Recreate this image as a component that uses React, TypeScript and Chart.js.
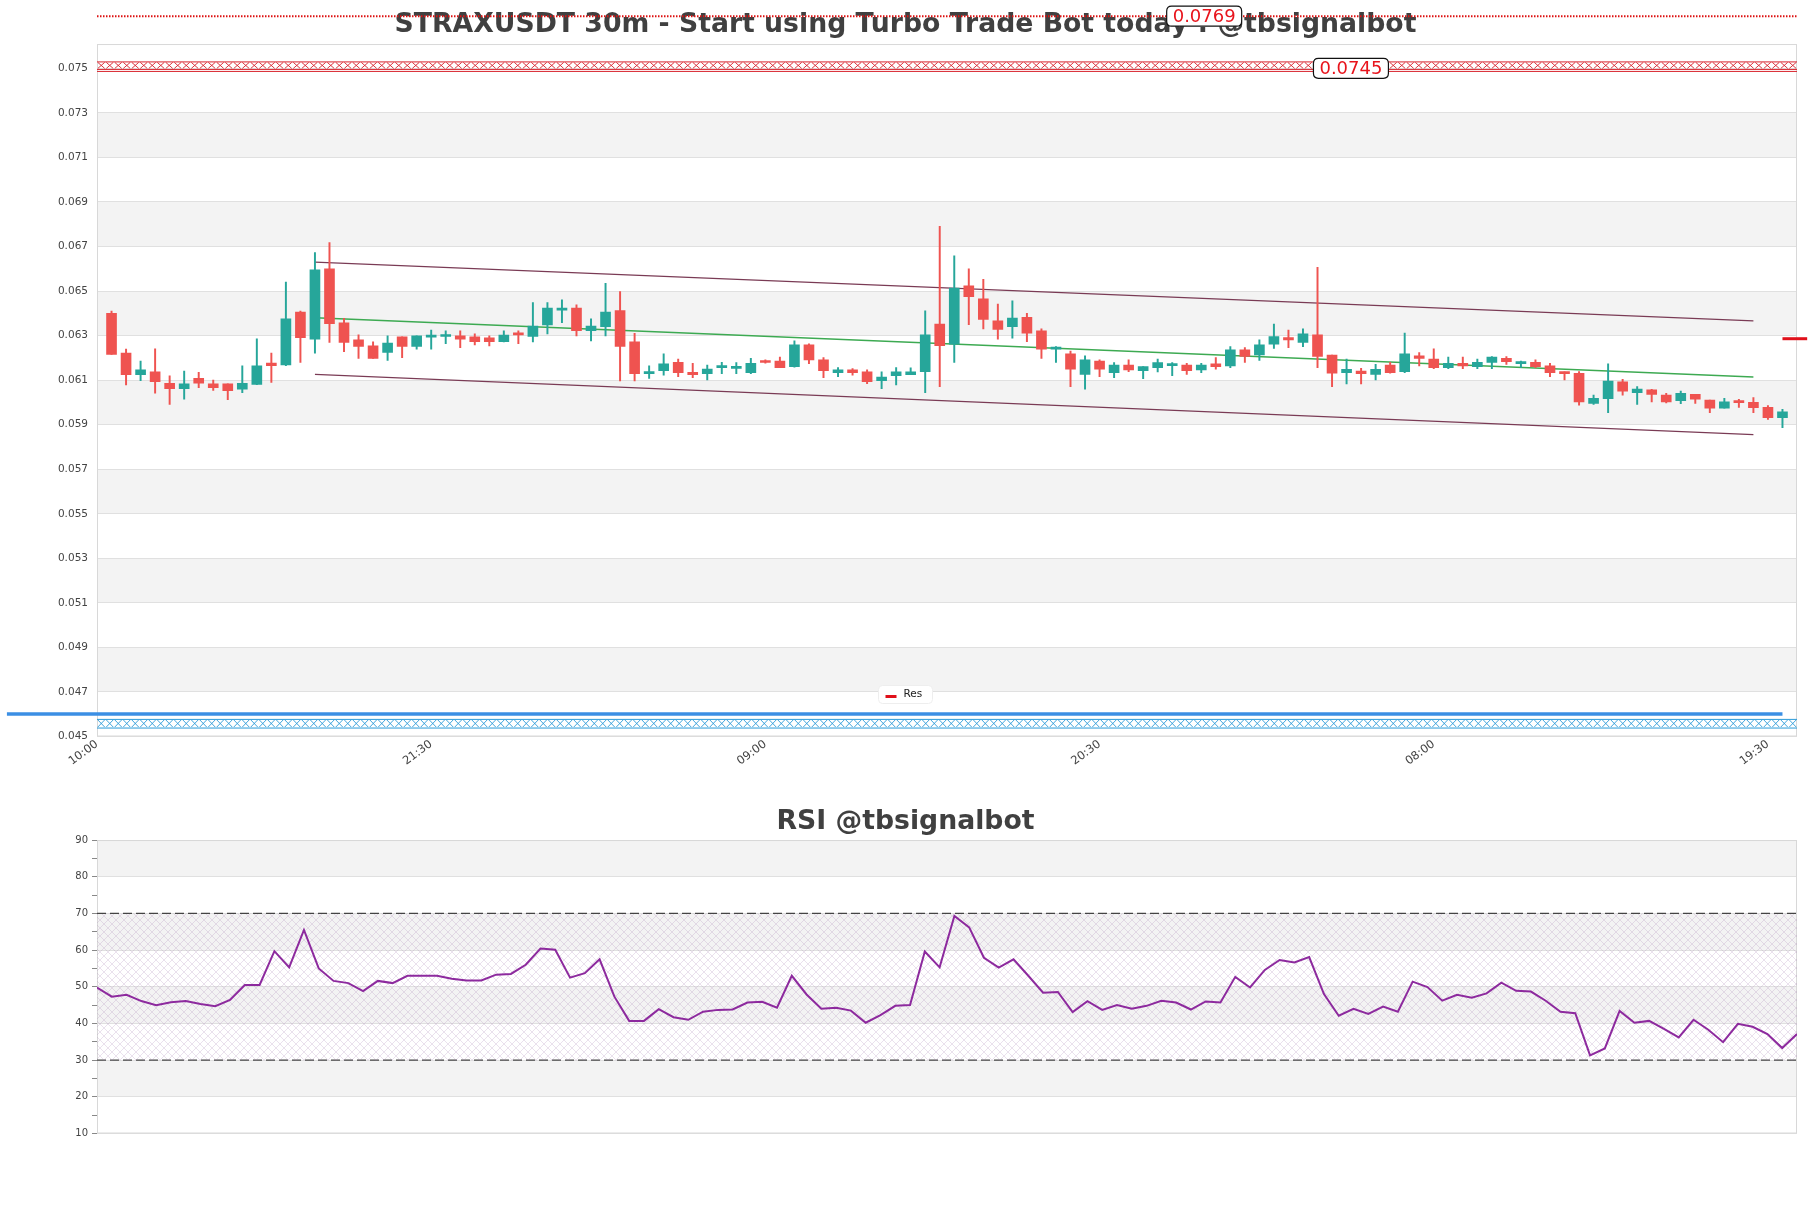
import React, { useEffect, useRef } from 'react';
import { Chart, registerables } from 'chart.js';

Chart.register(...registerables);

// ---------- DATA ----------
const titleMain = 'STRAXUSDT 30m - Start using Turbo Trade Bot today : @tbsignalbot';
const titleRsi = 'RSI @tbsignalbot';

const xTickPositions = [0, 23, 46, 69, 92, 115];
const xTickLabels = ['10:00', '21:30', '09:00', '20:30', '08:00', '19:30'];
const priceTicks = [0.045, 0.047, 0.049, 0.051, 0.053, 0.055, 0.057, 0.059, 0.061, 0.063, 0.065, 0.067, 0.069, 0.071, 0.073, 0.075];
const priceMin = 0.045;
const priceMax = 0.07609;
const xMin = 0;
const xMax = 117;

const candleOpen = [
  0.06400, 0.06221, 0.06125, 0.06137, 0.06086, 0.06062, 0.06108, 0.06083, 0.06083, 0.06059,
  0.06081, 0.06177, 0.06168, 0.06406, 0.06284, 0.06600, 0.06357, 0.06281, 0.06254, 0.06224,
  0.06294, 0.06251, 0.06293, 0.06296, 0.06299, 0.06294, 0.06290, 0.06273, 0.06308, 0.06296,
  0.06348, 0.06414, 0.06424, 0.06322, 0.06340, 0.06412, 0.06272, 0.06129, 0.06143, 0.06180,
  0.06135, 0.06129, 0.06156, 0.06153, 0.06134, 0.06186, 0.06186, 0.06161, 0.06258, 0.06191,
  0.06134, 0.06146, 0.06137, 0.06098, 0.06120, 0.06125, 0.06138, 0.06352, 0.06261, 0.06523,
  0.06465, 0.06366, 0.06340, 0.06382, 0.06321, 0.06239, 0.06218, 0.06126, 0.06186, 0.06134,
  0.06168, 0.06143, 0.06156, 0.06165, 0.06168, 0.06146, 0.06173, 0.06164, 0.06236, 0.06213,
  0.06261, 0.06291, 0.06269, 0.06303, 0.06213, 0.06134, 0.06141, 0.06126, 0.06168, 0.06138,
  0.06209, 0.06195, 0.06156, 0.06176, 0.06161, 0.06179, 0.06198, 0.06174, 0.06180, 0.06164,
  0.06137, 0.06131, 0.05996, 0.06017, 0.06092, 0.06044, 0.06056, 0.06033, 0.06008, 0.06036,
  0.06011, 0.05974, 0.06003, 0.06000, 0.05978, 0.05931,
];
const candleHigh = [
  0.06410, 0.06239, 0.06186, 0.06240, 0.06119, 0.06141, 0.06135, 0.06100, 0.06083, 0.06164,
  0.06285, 0.06222, 0.06540, 0.06410, 0.06673, 0.06718, 0.06378, 0.06303, 0.06272, 0.06299,
  0.06294, 0.06299, 0.06325, 0.06321, 0.06321, 0.06308, 0.06299, 0.06321, 0.06321, 0.06448,
  0.06448, 0.06460, 0.06438, 0.06375, 0.06535, 0.06498, 0.06310, 0.06164, 0.06218, 0.06194,
  0.06176, 0.06168, 0.06180, 0.06179, 0.06198, 0.06191, 0.06204, 0.06276, 0.06263, 0.06201,
  0.06156, 0.06152, 0.06146, 0.06137, 0.06156, 0.06155, 0.06411, 0.06790, 0.06658, 0.06600,
  0.06553, 0.06442, 0.06456, 0.06400, 0.06330, 0.06251, 0.06231, 0.06209, 0.06191, 0.06179,
  0.06191, 0.06161, 0.06195, 0.06179, 0.06176, 0.06176, 0.06201, 0.06251, 0.06246, 0.06281,
  0.06352, 0.06325, 0.06330, 0.06607, 0.06213, 0.06194, 0.06153, 0.06171, 0.06180, 0.06311,
  0.06224, 0.06240, 0.06203, 0.06203, 0.06194, 0.06206, 0.06206, 0.06186, 0.06191, 0.06176,
  0.06137, 0.06138, 0.06033, 0.06173, 0.06104, 0.06071, 0.06059, 0.06041, 0.06051, 0.06036,
  0.06011, 0.06018, 0.06014, 0.06022, 0.05986, 0.05969,
];
const candleLow = [
  0.06216, 0.06078, 0.06098, 0.06041, 0.05991, 0.06014, 0.06066, 0.06054, 0.06012, 0.06044,
  0.06080, 0.06090, 0.06165, 0.06179, 0.06221, 0.06269, 0.06228, 0.06198, 0.06197, 0.06188,
  0.06201, 0.06239, 0.06239, 0.06264, 0.06246, 0.06258, 0.06254, 0.06272, 0.06264, 0.06272,
  0.06308, 0.06358, 0.06299, 0.06276, 0.06299, 0.06096, 0.06096, 0.06108, 0.06122, 0.06116,
  0.06111, 0.06101, 0.06129, 0.06129, 0.06129, 0.06176, 0.06156, 0.06158, 0.06174, 0.06111,
  0.06116, 0.06122, 0.06084, 0.06062, 0.06078, 0.06125, 0.06044, 0.06071, 0.06179, 0.06349,
  0.06330, 0.06284, 0.06288, 0.06273, 0.06197, 0.06180, 0.06071, 0.06060, 0.06116, 0.06111,
  0.06138, 0.06107, 0.06137, 0.06120, 0.06126, 0.06134, 0.06149, 0.06156, 0.06179, 0.06188,
  0.06242, 0.06246, 0.06250, 0.06156, 0.06071, 0.06083, 0.06083, 0.06101, 0.06131, 0.06134,
  0.06164, 0.06152, 0.06152, 0.06152, 0.06152, 0.06152, 0.06170, 0.06156, 0.06156, 0.06116,
  0.06101, 0.05988, 0.05991, 0.05954, 0.06033, 0.05991, 0.06002, 0.05998, 0.05994, 0.05996,
  0.05954, 0.05974, 0.05978, 0.05954, 0.05924, 0.05887,
];
const candleClose = [
  0.06216, 0.06125, 0.06146, 0.06093, 0.06062, 0.06083, 0.06086, 0.06066, 0.06053, 0.06086,
  0.06164, 0.06165, 0.06375, 0.06291, 0.06595, 0.06354, 0.06269, 0.06251, 0.06197, 0.06266,
  0.06251, 0.06299, 0.06299, 0.06299, 0.06284, 0.06273, 0.06273, 0.06302, 0.06303, 0.06343,
  0.06424, 0.06420, 0.06322, 0.06343, 0.06406, 0.06251, 0.06129, 0.06134, 0.06173, 0.06134,
  0.06125, 0.06150, 0.06161, 0.06158, 0.06176, 0.06179, 0.06156, 0.06258, 0.06191, 0.06143,
  0.06146, 0.06134, 0.06093, 0.06114, 0.06137, 0.06137, 0.06303, 0.06255, 0.06513, 0.06475,
  0.06373, 0.06328, 0.06379, 0.06311, 0.06239, 0.06243, 0.06149, 0.06191, 0.06149, 0.06168,
  0.06146, 0.06161, 0.06179, 0.06171, 0.06143, 0.06168, 0.06161, 0.06236, 0.06206, 0.06258,
  0.06296, 0.06281, 0.06308, 0.06206, 0.06131, 0.06149, 0.06129, 0.06149, 0.06134, 0.06218,
  0.06197, 0.06156, 0.06176, 0.06164, 0.06180, 0.06203, 0.06183, 0.06180, 0.06161, 0.06134,
  0.06129, 0.06002, 0.06018, 0.06096, 0.06051, 0.06060, 0.06036, 0.06002, 0.06041, 0.06014,
  0.05974, 0.06003, 0.05999, 0.05976, 0.05931, 0.05958,
];

// channel / trend lines
const channelX = [15, 114];
const channelUpper = [0.0663, 0.06366];
const channelMid = [0.0638, 0.06114];
const channelLower = [0.06126, 0.05855];

// horizontal levels
const supportLineX = [-6.2, 116];
const supportLineValue = 0.04601;
const resistanceLineX = [0, 117];
const resistanceLineValue = 0.07734;
const resMarkerX = [116, 117.7];
const resMarkerValue = 0.06286;
const resZone = [0.07486, 0.07531];
const supZone = [0.04538, 0.04579];

const priceLabelTexts = ['0.0769', '0.0745'];
const priceLabelX = [76.2, 86.3];
const priceLabelY = [0.07734, 0.0750];

// RSI
const rsiValues = [
  49.8, 47.3, 47.8, 46.1, 45.0, 45.8, 46.1, 45.3, 44.7, 46.4,
  50.5, 50.5, 59.7, 55.3, 65.5, 55.0, 51.6, 51.0, 48.8, 51.6,
  51.0, 53.0, 53.0, 53.0, 52.2, 51.7, 51.7, 53.3, 53.5, 56.0,
  60.4, 60.1, 52.5, 53.7, 57.5, 47.3, 40.7, 40.7, 43.9, 41.7,
  41.0, 43.2, 43.7, 43.8, 45.7, 45.9, 44.3, 53.0, 47.9, 44.0,
  44.3, 43.5, 40.2, 42.3, 44.8, 45.0, 59.6, 55.3, 69.3, 66.2,
  57.9, 55.2, 57.5, 53.0, 48.4, 48.6, 43.1, 46.1, 43.7, 45.0,
  44.0, 44.8, 46.2, 45.7, 43.8, 46.0, 45.7, 52.7, 49.8, 54.6,
  57.3, 56.6, 58.1, 48.0, 42.1, 44.0, 42.6, 44.6, 43.2, 51.4,
  49.9, 46.2, 47.8, 47.0, 48.2, 51.1, 48.9, 48.7, 46.2, 43.2,
  42.8, 31.3, 33.2, 43.4, 40.2, 40.7, 38.5, 36.2, 41.0, 38.3,
  34.9, 39.9, 39.1, 37.1, 33.3, 37.1,
];
const rsiMajorTicks = [10, 20, 30, 40, 50, 60, 70, 80, 90];
const rsiMinorTicks = [10, 15, 20, 25, 30, 35, 40, 45, 50, 55, 60, 65, 70, 75, 80, 85, 90];
const rsiUpper = 70;
const rsiLower = 30;

// ---------- STYLE ----------
const UP = '#26a69a';
const DOWN = '#ef5350';
const BAND = '#f3f3f3';
const GRID = '#e0e0e0';
const FONT = "'DejaVu Sans', sans-serif";

function stripeBands(ticks: number[]) {
  const out: [number, number][] = [];
  for (let i = 0; i < ticks.length - 1; i++) if (i % 2 === 1) out.push([ticks[i], ticks[i + 1]]);
  return out;
}

function makeStripePlugin(ticks: number[]) {
  const bands = stripeBands(ticks);
  return {
    id: 'stripes',
    beforeDraw(chart: any) {
      const { ctx, chartArea: a } = chart;
      const y = chart.scales.y;
      ctx.save();
      ctx.fillStyle = BAND;
      for (const [lo, hi] of bands) {
        const y1 = y.getPixelForValue(hi);
        const y2 = y.getPixelForValue(lo);
        ctx.fillRect(a.left, y1, a.right - a.left, y2 - y1);
      }
      ctx.restore();
    },
    beforeDatasetsDraw(chart: any) {
      const { ctx, chartArea: a } = chart;
      ctx.save();
      ctx.strokeStyle = '#d8d8d8';
      ctx.lineWidth = 1;
      ctx.strokeRect(a.left + 0.5, a.top + 0.5, a.right - a.left - 1, a.bottom - a.top - 1);
      ctx.restore();
    },
  };
}

function drawZone(ctx: CanvasRenderingContext2D, left: number, right: number, yTop: number, yBot: number, color: string, doubleBottom: boolean) {
  ctx.save();
  ctx.strokeStyle = color;
  ctx.lineWidth = 0.9;
  const xBot = doubleBottom ? yBot - 2 : yBot;
  ctx.beginPath();
  const step = 8.5;
  for (let x = left; x + step <= right + 0.1; x += step) {
    ctx.moveTo(x + 0.8, yTop + 1);
    ctx.lineTo(x + step - 0.8, xBot - 1);
    ctx.moveTo(x + step - 0.8, yTop + 1);
    ctx.lineTo(x + 0.8, xBot - 1);
  }
  ctx.stroke();
  ctx.lineWidth = 1;
  ctx.beginPath();
  ctx.moveTo(left, yTop + 0.5);
  ctx.lineTo(right, yTop + 0.5);
  ctx.moveTo(left, xBot);
  ctx.lineTo(right, xBot);
  if (doubleBottom) {
    ctx.moveTo(left, yBot);
    ctx.lineTo(right, yBot);
  }
  ctx.stroke();
  ctx.restore();
}

const zonesPlugin = {
  id: 'zones',
  beforeDatasetsDraw(chart: any) {
    const { ctx, chartArea: a } = chart;
    const y = chart.scales.y;
    drawZone(ctx, a.left, a.right, y.getPixelForValue(resZone[1]), y.getPixelForValue(resZone[0]), '#d8232c', true);
    drawZone(ctx, a.left, a.right, y.getPixelForValue(supZone[1]), y.getPixelForValue(supZone[0]), '#2a9ad8', false);
  },
};

function roundRect(ctx: CanvasRenderingContext2D, x: number, y: number, w: number, h: number, r: number) {
  ctx.beginPath();
  ctx.moveTo(x + r, y);
  ctx.lineTo(x + w - r, y);
  ctx.quadraticCurveTo(x + w, y, x + w, y + r);
  ctx.lineTo(x + w, y + h - r);
  ctx.quadraticCurveTo(x + w, y + h, x + w - r, y + h);
  ctx.lineTo(x + r, y + h);
  ctx.quadraticCurveTo(x, y + h, x, y + h - r);
  ctx.lineTo(x, y + r);
  ctx.quadraticCurveTo(x, y, x + r, y);
  ctx.closePath();
}

const labelsPlugin = {
  id: 'priceLabels',
  afterDatasetsDraw(chart: any) {
    const { ctx, chartArea: a } = chart;
    const x = chart.scales.x;
    const y = chart.scales.y;
    ctx.save();
    ctx.font = `18px ${FONT}`;
    ctx.textAlign = 'center';
    ctx.textBaseline = 'middle';
    for (let i = 0; i < priceLabelTexts.length; i++) {
      const px = x.getPixelForValue(priceLabelX[i]);
      const py = y.getPixelForValue(priceLabelY[i]);
      const w = ctx.measureText(priceLabelTexts[i]).width + 12;
      const h = 20;
      roundRect(ctx, px - w / 2, py - h / 2, w, h, 5);
      ctx.fillStyle = '#ffffff';
      ctx.fill();
      ctx.strokeStyle = '#111111';
      ctx.lineWidth = 1.2;
      ctx.stroke();
      ctx.fillStyle = '#e8141c';
      ctx.fillText(priceLabelTexts[i], px, py + 1);
    }
    // legend "Res"
    const cx = chart.width / 2;
    const cy = a.bottom - 42;
    roundRect(ctx, cx - 27, cy - 9, 54, 18, 4);
    ctx.fillStyle = 'rgba(255,255,255,0.95)';
    ctx.fill();
    ctx.strokeStyle = '#eeeeee';
    ctx.lineWidth = 1;
    ctx.stroke();
    ctx.fillStyle = '#e0101a';
    ctx.fillRect(cx - 20, cy + 0.5, 11, 3);
    ctx.fillStyle = '#222222';
    ctx.font = `10.5px ${FONT}`;
    ctx.textAlign = 'left';
    ctx.fillText('Res', cx - 2, cy);
    ctx.restore();
  },
};

function makeCrossHatch(): CanvasPattern | string {
  const c = document.createElement('canvas');
  c.width = 8;
  c.height = 8;
  const g = c.getContext('2d');
  if (!g) return 'rgba(200,150,210,0.12)';
  g.strokeStyle = 'rgba(175,140,185,0.26)';
  g.lineWidth = 1;
  g.beginPath();
  g.moveTo(0, 0);
  g.lineTo(8, 8);
  g.moveTo(8, 0);
  g.lineTo(0, 8);
  g.stroke();
  return g.createPattern(c, 'repeat') || 'rgba(200,150,210,0.12)';
}

// invisible right-hand spacer axis so the title centres on the full canvas width
const rightSpacer = {
  position: 'right',
  display: true,
  grid: { display: false, drawTicks: false },
  border: { display: false },
  ticks: { display: false },
  afterFit: (s: any) => {
    s.width = 14;
  },
};

export default function App() {
  const mainRef = useRef<HTMLCanvasElement | null>(null);
  const rsiRef = useRef<HTMLCanvasElement | null>(null);

  useEffect(() => {
    Chart.defaults.font.family = FONT;
    Chart.defaults.color = '#444444';

    const bodies = candleOpen.map((o, i) => ({ x: i + 1, y: [o, candleClose[i]] }));
    const wicks = candleOpen.map((_, i) => ({ x: i + 1, y: [candleLow[i], candleHigh[i]] }));
    const colors = candleOpen.map((o, i) => (candleClose[i] >= o ? UP : DOWN));

    const line = (xs: number[], ys: number[]) => xs.map((x, i) => ({ x, y: ys[i] }));

    const main = new Chart(mainRef.current as HTMLCanvasElement, {
      type: 'bar',
      data: {
        datasets: [
          {
            type: 'bar',
            label: 'body',
            data: bodies as any,
            backgroundColor: colors,
            borderWidth: 0,
            barThickness: 10,
            minBarLength: 2,
            grouped: false,
            order: 0,
          } as any,
          {
            type: 'bar',
            label: 'wick',
            data: wicks as any,
            backgroundColor: colors,
            borderWidth: 0,
            barThickness: 1.3,
            grouped: false,
            order: 1,
          } as any,
          {
            type: 'line',
            label: 'Upper',
            data: line(channelX, channelUpper),
            borderColor: '#7a3b55',
            borderWidth: 1.3,
            pointRadius: 0,
            order: 2,
          },
          {
            type: 'line',
            label: 'Mid',
            data: line(channelX, channelMid),
            borderColor: '#3daa52',
            borderWidth: 1.3,
            pointRadius: 0,
            order: 2,
          },
          {
            type: 'line',
            label: 'Lower',
            data: line(channelX, channelLower),
            borderColor: '#7a3b55',
            borderWidth: 1.3,
            pointRadius: 0,
            order: 2,
          },
          {
            type: 'line',
            label: 'Support',
            data: line(supportLineX, [supportLineValue, supportLineValue]),
            borderColor: '#3b8fe4',
            borderWidth: 3.5,
            pointRadius: 0,
            clip: false,
            order: 2,
          } as any,
          {
            type: 'line',
            label: 'Resistance',
            data: line(resistanceLineX, [resistanceLineValue, resistanceLineValue]),
            borderColor: '#dd1111',
            borderWidth: 2,
            borderDash: [1.5, 1.5],
            pointRadius: 0,
            clip: false,
            order: 2,
          } as any,
          {
            type: 'line',
            label: 'Res',
            data: line(resMarkerX, [resMarkerValue, resMarkerValue]),
            borderColor: '#e0101a',
            borderWidth: 3,
            pointRadius: 0,
            clip: false,
            order: 2,
          } as any,
        ],
      },
      options: {
        responsive: false,
        animation: false,
        devicePixelRatio: 1,
        layout: { padding: { left: 0, right: 0, top: 0, bottom: 0 } },
        plugins: {
          legend: { display: false },
          tooltip: { enabled: false },
          title: {
            display: true,
            text: titleMain,
            color: '#404040',
            font: { size: 26.7, weight: 'bold', family: FONT },
            padding: { top: 9.3, bottom: 2.7 },
          },
        },
        scales: {
          x: {
            type: 'linear',
            min: xMin,
            max: xMax,
            offset: false,
            grid: { display: false, offset: false },
            border: { display: false },
            afterBuildTicks: (s: any) => {
              s.ticks = xTickPositions.map((v) => ({ value: v }));
            },
            afterFit: (s: any) => {
              s.height = 43.5;
            },
            ticks: {
              autoSkip: false,
              maxRotation: 36,
              minRotation: 36,
              padding: -7,
              color: '#444444',
              font: { size: 11.5, family: FONT },
              callback: (v: any) => {
                const i = xTickPositions.indexOf(Number(v));
                return i >= 0 ? xTickLabels[i] : '';
              },
            },
          },
          y: {
            type: 'linear',
            min: priceMin,
            max: priceMax,
            grid: { color: GRID, drawTicks: false },
            border: { display: false },
            afterBuildTicks: (s: any) => {
              s.ticks = priceTicks.map((v) => ({ value: v }));
            },
            afterFit: (s: any) => {
              s.width = 97;
            },
            ticks: {
              padding: 9,
              color: '#444444',
              font: { size: 10.5, family: FONT },
              callback: (v: any) => Number(v).toFixed(3),
            },
          },
          yr: rightSpacer,
        },
      } as any,
      plugins: [makeStripePlugin(priceTicks), zonesPlugin, labelsPlugin],
    });

    const hatch = makeCrossHatch();
    const rsiData = rsiValues.map((v, i) => ({ x: i, y: v }));
    const lastIdx = rsiValues.length - 1;

    const rsi = new Chart(rsiRef.current as HTMLCanvasElement, {
      type: 'line',
      data: {
        datasets: [
          {
            label: 'RSI',
            data: rsiData,
            borderColor: '#8d2a9e',
            borderWidth: 2,
            pointRadius: 0,
            tension: 0,
            order: 0,
          },
          {
            label: 'Overbought',
            data: [{ x: 0, y: rsiUpper }, { x: lastIdx, y: rsiUpper }],
            borderColor: '#444444',
            borderWidth: 1.4,
            borderDash: [9, 4],
            pointRadius: 0,
            fill: '+1',
            backgroundColor: hatch as any,
            order: 1,
          },
          {
            label: 'Oversold',
            data: [{ x: 0, y: rsiLower }, { x: lastIdx, y: rsiLower }],
            borderColor: '#444444',
            borderWidth: 1.4,
            borderDash: [9, 4],
            pointRadius: 0,
            fill: false,
            order: 1,
          },
        ],
      },
      options: {
        responsive: false,
        animation: false,
        devicePixelRatio: 1,
        layout: { padding: { left: 0, right: 0, top: 0, bottom: 74.5 } },
        plugins: {
          legend: { display: false },
          tooltip: { enabled: false },
          title: {
            display: true,
            text: titleRsi,
            color: '#404040',
            font: { size: 26.7, weight: 'bold', family: FONT },
            padding: { top: 26.3, bottom: 1.7 },
          },
        },
        scales: {
          x: {
            type: 'linear',
            min: 0,
            max: lastIdx,
            display: false,
          },
          y: {
            type: 'linear',
            min: 10,
            max: 90,
            border: { display: false },
            grid: {
              color: (c: any) => (c.tick && rsiMajorTicks.includes(c.tick.value) ? GRID : 'rgba(0,0,0,0)'),
              tickColor: '#888888',
              tickLength: 5,
              drawTicks: true,
            },
            afterBuildTicks: (s: any) => {
              s.ticks = rsiMinorTicks.map((v) => ({ value: v }));
            },
            afterFit: (s: any) => {
              s.width = 97;
            },
            ticks: {
              padding: 4,
              color: '#444444',
              font: { size: 10, family: FONT },
              callback: (v: any) => (rsiMajorTicks.includes(Number(v)) ? String(v) : ''),
            },
          },
          yr: rightSpacer,
        },
      } as any,
      plugins: [makeStripePlugin(rsiMajorTicks)],
    });

    return () => {
      main.destroy();
      rsi.destroy();
    };
  }, []);

  return (
    <div style={{ position: 'absolute', left: 0, top: 0, width: 1811, height: 1208, background: '#ffffff' }}>
      <canvas ref={mainRef} width={1811} height={780} style={{ position: 'absolute', left: 0, top: 0, display: 'block' }} />
      <canvas ref={rsiRef} width={1811} height={428} style={{ position: 'absolute', left: 0, top: 780, display: 'block' }} />
    </div>
  );
}
